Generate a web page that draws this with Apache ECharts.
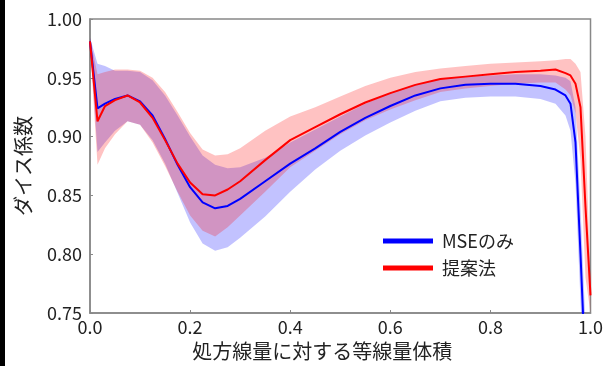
<!DOCTYPE html>
<html>
<head>
<meta charset="utf-8">
<script src="https://cdn.jsdelivr.net/npm/echarts@6/dist/echarts.min.js"></script>
<style>
  html, body { margin: 0; padding: 0; background: #fff; }
  #chart { width: 606px; height: 366px; }
</style>
</head>
<body>
<div id="chart"></div>
<script>
// 横軸: 処方線量に対する等線量体積
var xs = [0, 0.015, 0.03, 0.05, 0.075, 0.1, 0.125, 0.15, 0.175, 0.2, 0.225, 0.25, 0.275, 0.3,
          0.35, 0.4, 0.45, 0.5, 0.55, 0.6, 0.65, 0.7, 0.75, 0.8, 0.85, 0.9, 0.93, 0.95,
          0.96, 0.97, 0.98, 0.99, 1.0];

// MSEのみ (平均, 上限, 下限)
var mseMean = [0.981, 0.924, 0.928, 0.932, 0.935, 0.930, 0.918, 0.898, 0.876, 0.857, 0.844, 0.839, 0.841, 0.847,
               0.862, 0.877, 0.890, 0.904, 0.916, 0.926, 0.935, 0.941, 0.944, 0.945, 0.945, 0.943, 0.940, 0.935,
               0.928, 0.895, 0.800, 0.700, 0.650];
var mseUpper = [0.984, 0.962, 0.960, 0.956, 0.956, 0.955, 0.948, 0.935, 0.918, 0.900, 0.884, 0.876, 0.873, 0.874,
                0.882, 0.895, 0.906, 0.917, 0.928, 0.937, 0.944, 0.949, 0.951, 0.952, 0.953, 0.953, 0.952, 0.950,
                0.947, 0.925, 0.840, 0.740, 0.690];
var mseLower = [0.978, 0.887, 0.895, 0.905, 0.913, 0.910, 0.897, 0.877, 0.852, 0.827, 0.809, 0.803, 0.806, 0.814,
                0.832, 0.853, 0.872, 0.888, 0.901, 0.912, 0.922, 0.930, 0.933, 0.934, 0.934, 0.932, 0.928, 0.918,
                0.905, 0.860, 0.760, 0.660, 0.610];

// 提案法 (平均, 上限, 下限)
var propMean = [0.981, 0.913, 0.926, 0.931, 0.935, 0.929, 0.916, 0.897, 0.877, 0.861, 0.851, 0.850, 0.855, 0.862,
                0.880, 0.897, 0.908, 0.919, 0.929, 0.937, 0.944, 0.949, 0.951, 0.953, 0.955, 0.956, 0.957, 0.954,
                0.952, 0.945, 0.925, 0.840, 0.765];
var propUpper = [0.984, 0.953, 0.955, 0.957, 0.957, 0.956, 0.950, 0.938, 0.921, 0.903, 0.889, 0.884, 0.885, 0.890,
                 0.905, 0.917, 0.925, 0.934, 0.943, 0.950, 0.955, 0.958, 0.960, 0.962, 0.963, 0.964, 0.965, 0.966,
                 0.966, 0.962, 0.955, 0.900, 0.780];
var propLower = [0.978, 0.876, 0.890, 0.902, 0.913, 0.910, 0.895, 0.875, 0.853, 0.833, 0.820, 0.815, 0.823, 0.833,
                 0.853, 0.874, 0.888, 0.902, 0.914, 0.923, 0.931, 0.938, 0.941, 0.943, 0.945, 0.946, 0.946, 0.940,
                 0.935, 0.920, 0.880, 0.780, 0.750];

var seriesNames = ['MSEのみ', '提案法'];

var font = '"Noto Sans CJK JP", "Noto Sans", sans-serif';
var textColor = '#222';
var frameColor = '#888';

function pairs(vals) {
    return xs.map(function (x, i) { return [x, vals[i]]; });
}

// 上限と下限の間を塗る帯 (custom series, 座標は軸から計算)
function bandSeries(name, up, low, color) {
    var rows = xs.map(function (x, i) { return [x, low[i], up[i]]; });
    return {
        name: name, type: 'custom', silent: true, clip: true, z: 1,
        data: rows,
        encode: { x: 0, y: [1, 2] },
        renderItem: function (params, api) {
            if (params.dataIndex !== 0) return null;
            var pts = [];
            var i;
            for (i = 0; i < rows.length; i++) pts.push(api.coord([rows[i][0], rows[i][2]]));
            for (i = rows.length - 1; i >= 0; i--) pts.push(api.coord([rows[i][0], rows[i][1]]));
            var cs = params.coordSys;
            return {
                type: 'polygon',
                shape: { points: pts },
                style: { fill: color },
                clipPath: { type: 'rect', shape: { x: cs.x, y: cs.y, width: cs.width, height: cs.height } }
            };
        }
    };
}

var chart = echarts.init(document.getElementById('chart'), null, { renderer: 'canvas' });
chart.setOption({
    animation: false,
    textStyle: { fontFamily: font },
    graphic: [{
        type: 'rect', left: 0, top: 0,
        shape: { width: 5, height: 366 },
        style: { fill: '#000' }, z: 100
    }],
    grid: {
        left: 90, right: 11, top: 19, bottom: 46,
        show: true, borderColor: frameColor, borderWidth: 1.5, backgroundColor: 'transparent'
    },
    legend: {
        data: seriesNames,
        orient: 'vertical',
        left: 383, top: 231,
        padding: 0,
        itemGap: 7,
        icon: 'rect',
        itemWidth: 50, itemHeight: 5,
        textStyle: { fontSize: 18, color: textColor, fontFamily: font, lineHeight: 20, padding: [0, 0, 0, 4] }
    },
    xAxis: {
        type: 'value', min: 0, max: 1, interval: 0.2,
        name: '処方線量に対する等線量体積',
        nameLocation: 'middle', nameGap: 28,
        nameTextStyle: { fontSize: 20, color: textColor, fontFamily: font, padding: [0, 36, 0, 0] },
        axisLine: { show: true, lineStyle: { color: frameColor, width: 1.5 } },
        axisTick: { show: true, inside: true, length: 3, lineStyle: { color: frameColor } },
        splitLine: { show: false },
        axisLabel: {
            fontSize: 18, color: textColor, margin: 5,
            formatter: function (v) { return v.toFixed(1); }
        }
    },
    yAxis: {
        type: 'value', min: 0.75, max: 1.0, interval: 0.05,
        name: 'ダイス係数',
        nameLocation: 'middle', nameGap: 57,
        nameTextStyle: { fontSize: 20, color: textColor, fontFamily: font },
        axisLine: { show: true, lineStyle: { color: frameColor, width: 1.5 } },
        axisTick: { show: true, inside: true, length: 3, lineStyle: { color: frameColor } },
        splitLine: { show: false },
        axisLabel: {
            fontSize: 18, color: textColor, margin: 8,
            formatter: function (v) { return v.toFixed(2); }
        }
    },
    series: [
        bandSeries('mseBand', mseUpper, mseLower, 'rgba(0,0,255,0.24)'),
        bandSeries('propBand', propUpper, propLower, 'rgba(255,0,0,0.24)'),
        {
            name: seriesNames[0], type: 'line', data: pairs(mseMean),
            showSymbol: false, color: '#0000ff',
            lineStyle: { color: '#0000ff', width: 2 }, z: 3
        },
        {
            name: seriesNames[1], type: 'line', data: pairs(propMean),
            showSymbol: false, color: '#ff0000',
            lineStyle: { color: '#ff0000', width: 2 }, z: 4
        }
    ]
});
</script>
</body>
</html>
